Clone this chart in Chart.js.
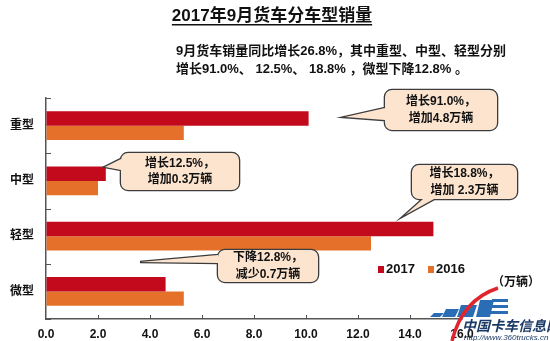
<!DOCTYPE html>
<html>
<head>
<meta charset="utf-8">
<script src="https://cdn.jsdelivr.net/npm/chart.js@4"></script>
<style>
  body { margin: 0; background: #fff; }
  #wrap { width: 550px; height: 341px; }
</style>
</head>
<body>
<div id="wrap"><canvas id="truckChart" width="550" height="341"></canvas></div>
<script>
// values in 万辆
const truckTypes = ['重型', '中型', '轻型', '微型'];
const sales2017 = [10.1, 2.3, 14.9, 4.6];
const sales2016 = [5.3, 2.0, 12.5, 5.3];
const seriesNames = ['2017', '2016'];

const chartTitle = '2017年9月货车分车型销量';
const subtitleLines = [
    '9月货车销量同比增长26.8%，其中重型、中型、轻型分别',
    '增长91.0%、 12.5%、 18.8% ，微型下降12.8% 。'
];
const unitLabel = '（万辆）';

const callouts = [
    { lines: ['增长91.0%，', '增加4.8万辆'], box: [385, 90, 112, 40], tail: [[385, 108], [345, 117], [385, 120]] },
    { lines: ['增长12.5%，', '增加0.3万辆'], box: [121, 153, 118, 37], tail: [[121, 159], [105, 167], [121, 170]] },
    { lines: ['增长18.8%，', '增加 2.3万辆'], box: [412, 165, 105, 34], tail: [[423, 199], [405, 215], [434, 199]] },
    { lines: ['下降12.8%，', '减少0.7万辆'], box: [218, 250, 100, 32], tail: [[218, 255], [140, 262], [218, 263]] }
];

const FONT = '"Liberation Sans", "Noto Sans CJK SC", sans-serif';
const RED = '#C20A1C';
const ORANGE = '#E5702A';
const AXIS = '#555';

function roundRect(ctx, x, y, w, h, r) {
    ctx.moveTo(x + r, y);
    ctx.arcTo(x + w, y, x + w, y + h, r);
    ctx.arcTo(x + w, y + h, x, y + h, r);
    ctx.arcTo(x, y + h, x, y, r);
    ctx.arcTo(x, y, x + w, y, r);
    ctx.closePath();
}

const decorPlugin = {
    id: 'decor',
    afterDraw(chart) {
        const ctx = chart.ctx;
        const xs = chart.scales.x;
        const ys = chart.scales.y;
        ctx.save();

        // inward tick marks
        ctx.strokeStyle = AXIS;
        ctx.lineWidth = 1;
        ctx.beginPath();
        xs.ticks.forEach(t => {
            if (t.value === 0) return;
            const px = Math.round(xs.getPixelForValue(t.value)) + 0.5;
            ctx.moveTo(px, xs.top);
            ctx.lineTo(px, xs.top - 4);
        });
        for (let i = 0; i <= truckTypes.length; i++) {
            const py = Math.round(ys.getPixelForValue(i - 0.5)) + 0.5;
            ctx.moveTo(ys.right, py);
            ctx.lineTo(ys.right + 5, py);
        }
        ctx.stroke();

        // title
        ctx.fillStyle = '#111';
        ctx.textBaseline = 'middle';
        ctx.textAlign = 'center';
        ctx.font = 'bold 17px ' + FONT;
        ctx.fillText(chartTitle, 272, 16);
        const tw = ctx.measureText(chartTitle).width;
        ctx.fillRect(272 - tw / 2, 24, tw, 1.5);

        // subtitle
        ctx.textAlign = 'left';
        ctx.font = 'bold 13px ' + FONT;
        subtitleLines.forEach((line, i) => ctx.fillText(line, 176, 51 + i * 18.5));

        // callouts
        ctx.font = 'bold 12px ' + FONT;
        callouts.forEach(c => {
            const [bx, by, bw, bh] = c.box;
            ctx.beginPath();
            roundRect(ctx, bx, by, bw, bh, 7);
            ctx.moveTo(c.tail[0][0], c.tail[0][1]);
            ctx.lineTo(c.tail[1][0], c.tail[1][1]);
            ctx.lineTo(c.tail[2][0], c.tail[2][1]);
            ctx.closePath();
            ctx.strokeStyle = '#3c3c3c';
            ctx.lineWidth = 2.6;
            ctx.stroke();
            ctx.fillStyle = '#FCE4CF';
            ctx.fill();
            ctx.fillStyle = '#111';
            ctx.textAlign = 'center';
            const cy = by + bh / 2;
            c.lines.forEach((line, i) => ctx.fillText(line, bx + bw / 2, cy + (i - 0.5) * 16.5));
        });

        // legend
        ctx.font = 'bold 13px ' + FONT;
        ctx.textAlign = 'left';
        const legendX = [378, 428];
        chart.data.datasets.forEach((ds, i) => {
            ctx.fillStyle = ds.backgroundColor;
            ctx.fillRect(legendX[i], 266, 6, 7);
            ctx.fillStyle = '#111';
            ctx.fillText(ds.label, legendX[i] + 8, 269);
        });

        // unit
        ctx.font = 'bold 12px ' + FONT;
        ctx.fillText(unitLabel, 492, 283);

        // watermark
        ctx.fillStyle = '#2a6db5';
        const stripes = [[430, 313, 10, 4], [442, 309, 13, 8], [457, 305, 16, 12], [476, 300, 14, 17]];
        stripes.forEach(([x, y, w, h]) => {
            ctx.beginPath();
            ctx.moveTo(x + 4, y);
            ctx.lineTo(x + w + 4, y);
            ctx.lineTo(x + w, y + h);
            ctx.lineTo(x, y + h);
            ctx.closePath();
            ctx.fill();
        });
        ctx.fillRect(492, 299, 16, 3);
        ctx.fillRect(490, 305, 18, 3);
        ctx.fillRect(488, 311, 20, 3);
        ctx.strokeStyle = '#e0262c';
        ctx.lineWidth = 3.5;
        ctx.beginPath();
        ctx.moveTo(452, 341);
        ctx.quadraticCurveTo(462, 300, 498, 288);
        ctx.stroke();
        ctx.fillStyle = '#1b3a66';
        ctx.font = 'italic bold 14px ' + FONT;
        ctx.fillText('中国卡车信息网', 462, 327);
        ctx.font = 'italic 8px ' + FONT;
        ctx.fillText('http://www.360trucks.cn', 464, 338);

        ctx.restore();
    }
};

new Chart(document.getElementById('truckChart'), {
    type: 'bar',
    data: {
        labels: truckTypes,
        datasets: [
            { label: seriesNames[0], data: sales2017, backgroundColor: RED },
            { label: seriesNames[1], data: sales2016, backgroundColor: ORANGE }
        ]
    },
    options: {
        indexAxis: 'y',
        responsive: false,
        animation: false,
        categoryPercentage: 0.52,
        barPercentage: 1.0,
        layout: { padding: { top: 98, right: 88, left: 0, bottom: 0 } },
        plugins: {
            legend: { display: false },
            tooltip: { enabled: false }
        },
        scales: {
            x: {
                min: 0,
                max: 16,
                ticks: {
                    stepSize: 2,
                    padding: 8,
                    color: '#111',
                    font: { family: FONT, size: 12, weight: 'bold' },
                    callback: v => v.toFixed(1)
                },
                grid: { drawOnChartArea: false, drawTicks: false },
                border: { color: AXIS, width: 1.5 },
                afterFit: s => { s.height = 22; }
            },
            y: {
                ticks: {
                    padding: 12,
                    color: '#111',
                    font: { family: FONT, size: 12, weight: 'bold' }
                },
                grid: { drawOnChartArea: false, drawTicks: false },
                border: { color: AXIS, width: 1.5 },
                afterFit: s => { s.width = 46; }
            }
        }
    },
    plugins: [decorPlugin]
});
</script>
</body>
</html>
